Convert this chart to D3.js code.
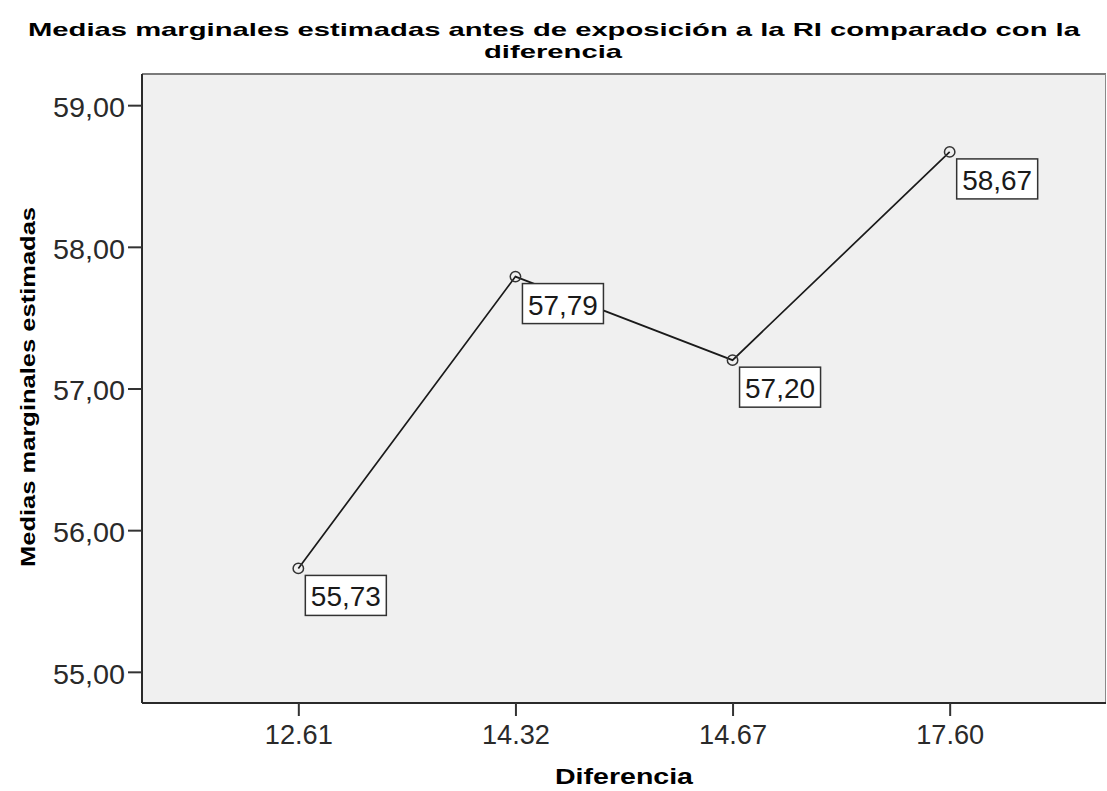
<!DOCTYPE html>
<html>
<head>
<meta charset="utf-8">
<script src="https://cdn.jsdelivr.net/npm/d3@7"></script>
<style>
  body { margin: 0; background: #fff; }
  svg { display: block; }
  text { font-family: "Liberation Sans", Arial, sans-serif; }
</style>
</head>
<body>
<svg id="chart" width="1107" height="791"></svg>
<script>
// Estimated marginal means by "Diferencia" group
const categories = ["12.61", "14.32", "14.67", "17.60"];
const means = [55.73, 57.79, 57.20, 58.67];
const valueLabels = ["55,73", "57,79", "57,20", "58,67"];
const yTicks = [55, 56, 57, 58, 59];
const titleLines = ["Medias marginales estimadas antes de exposición a la RI comparado con la", "diferencia"];
const xTitle = "Diferencia";
const yTitle = "Medias marginales estimadas";

const svg = d3.select("#chart");
const plot = { left: 142, top: 74, right: 1106, bottom: 703 };

const x = d3.scalePoint()
  .domain(categories)
  .range([plot.left, plot.right])
  .padding(0.72);

const y = d3.scaleLinear()
  .domain([54.78, 59.22])
  .range([plot.bottom, plot.top]);

// Plot background
svg.append("rect")
  .attr("x", plot.left).attr("y", plot.top)
  .attr("width", plot.right - plot.left).attr("height", plot.bottom - plot.top)
  .attr("fill", "#f0f0f0");

// Frame: grey top/right, dark left/bottom
svg.append("line").attr("x1", plot.left).attr("x2", plot.right)
  .attr("y1", plot.top).attr("y2", plot.top)
  .attr("stroke", "#7a7a7a").attr("stroke-width", 2);
svg.append("line").attr("x1", plot.right - 0.5).attr("x2", plot.right - 0.5)
  .attr("y1", plot.top).attr("y2", plot.bottom)
  .attr("stroke", "#8a8a8a").attr("stroke-width", 1);

const numFmt = d => d3.format(".2f")(d).replace(".", ",");

// Y axis
const yAxis = svg.append("g")
  .attr("transform", `translate(${plot.left},0)`)
  .call(d3.axisLeft(y).tickValues(yTicks).tickSize(14).tickPadding(3).tickFormat(numFmt));
yAxis.select(".domain").attr("stroke", "#2a2a2a").attr("stroke-width", 2)
  .attr("d", `M0,${plot.top}V${plot.bottom}`);
yAxis.selectAll(".tick line").attr("stroke", "#333").attr("stroke-width", 2);
yAxis.selectAll(".tick text")
  .attr("fill", "#2a2a2a")
  .style("font-size", "27px")
  .attr("dy", "0.42em")
  .attr("textLength", 72)
  .attr("lengthAdjust", "spacingAndGlyphs");

// X axis
const xAxis = svg.append("g")
  .attr("transform", `translate(0,${plot.bottom})`)
  .call(d3.axisBottom(x).tickSize(13));
xAxis.select(".domain").attr("stroke", "#2a2a2a").attr("stroke-width", 2)
  .attr("d", `M${plot.left},0H${plot.right}`);
xAxis.selectAll(".tick line").attr("stroke", "#333").attr("stroke-width", 2);
xAxis.selectAll(".tick text")
  .attr("fill", "#2a2a2a")
  .style("font-size", "27px")
  .attr("y", 41).attr("dy", 0)
  .attr("textLength", 68)
  .attr("lengthAdjust", "spacingAndGlyphs");

// Line through the means
const data = categories.map((c, i) => ({ c, v: means[i], label: valueLabels[i] }));
svg.append("path")
  .datum(data)
  .attr("fill", "none")
  .attr("stroke", "#1a1a1a")
  .attr("stroke-width", 1.7)
  .attr("d", d3.line().x(d => x(d.c)).y(d => y(d.v)));

// Point markers
svg.selectAll("circle.pt")
  .data(data).join("circle")
  .attr("class", "pt")
  .attr("cx", d => x(d.c)).attr("cy", d => y(d.v))
  .attr("r", 5.2)
  .attr("fill", "none")
  .attr("stroke", "#333")
  .attr("stroke-width", 1.5);

// Value label boxes
const lab = svg.selectAll("g.lab").data(data).join("g")
  .attr("class", "lab")
  .attr("transform", d => `translate(${x(d.c) + 7},${y(d.v) + 7})`);
lab.append("rect")
  .attr("x", 0).attr("y", 0).attr("width", 81).attr("height", 40)
  .attr("fill", "#fff").attr("stroke", "#333").attr("stroke-width", 1.5);
lab.append("text")
  .attr("x", 40.5).attr("y", 31)
  .attr("text-anchor", "middle")
  .attr("fill", "#1a1a1a")
  .style("font-size", "27px")
  .attr("textLength", 70)
  .attr("lengthAdjust", "spacingAndGlyphs")
  .text(d => d.label);

// Titles
svg.append("text")
  .attr("x", 554).attr("y", 36)
  .attr("text-anchor", "middle")
  .style("font-size", "19px").style("font-weight", "bold")
  .attr("fill", "#000")
  .attr("textLength", 1052)
  .attr("lengthAdjust", "spacingAndGlyphs")
  .text(titleLines[0]);
svg.append("text")
  .attr("x", 553).attr("y", 58)
  .attr("text-anchor", "middle")
  .style("font-size", "19px").style("font-weight", "bold")
  .attr("fill", "#000")
  .attr("textLength", 138)
  .attr("lengthAdjust", "spacingAndGlyphs")
  .text(titleLines[1]);

svg.append("text")
  .attr("x", 624).attr("y", 784)
  .attr("text-anchor", "middle")
  .style("font-size", "22px").style("font-weight", "bold")
  .attr("fill", "#000")
  .attr("textLength", 138)
  .attr("lengthAdjust", "spacingAndGlyphs")
  .text(xTitle);

svg.append("text")
  .attr("transform", `translate(35,387) rotate(-90)`)
  .attr("text-anchor", "middle")
  .style("font-size", "20px").style("font-weight", "bold")
  .attr("fill", "#000")
  .attr("textLength", 360)
  .attr("lengthAdjust", "spacingAndGlyphs")
  .text(yTitle);
</script>
</body>
</html>
